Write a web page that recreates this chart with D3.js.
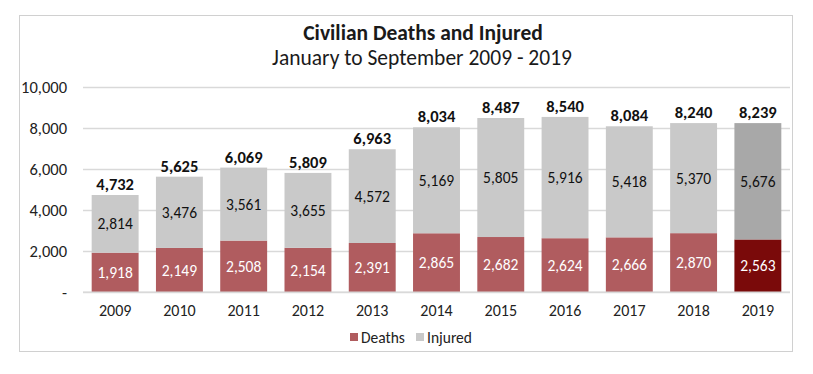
<!doctype html>
<html>
<head>
<meta charset="utf-8">
<style>
  body { margin: 0; background: #fff; }
  svg text { font-family: Carlito, Lato, "Open Sans", sans-serif; }
</style>
<script src="https://d3js.org/d3.v7.min.js"></script>
</head>
<body>
<svg width="813" height="374"></svg>
<script>
// data
var years = ["2009", "2010", "2011", "2012", "2013", "2014", "2015", "2016", "2017", "2018", "2019"];
var deaths = [1918, 2149, 2508, 2154, 2391, 2865, 2682, 2624, 2666, 2870, 2563];
var injured = [2814, 3476, 3561, 3655, 4572, 5169, 5805, 5916, 5418, 5370, 5676];
var yTicks = [0, 2000, 4000, 6000, 8000, 10000];

var svg = d3.select("svg");
var fmt = d3.format(",");

// outer frame
svg.append("rect")
   .attr("x", 19.5).attr("y", 15.5)
   .attr("width", 773).attr("height", 336)
   .attr("fill", "#fff")
   .attr("stroke", "#d0d0d0");

svg.append("text")
   .attr("x", 423).attr("y", 40)
   .attr("text-anchor", "middle")
   .attr("font-size", "21.5px").attr("font-weight", "bold")
   .attr("fill", "#1a1a1a")
   .text("Civilian Deaths and Injured");

svg.append("text")
   .attr("x", 422).attr("y", 65)
   .attr("text-anchor", "middle")
   .attr("font-size", "21.5px")
   .attr("fill", "#1a1a1a")
   .text("January to September 2009 - 2019");

var x = d3.scaleBand().domain(years).range([83, 790]).paddingInner(0.27).paddingOuter(0.135);
var y = d3.scaleLinear().domain([0, 10000]).range([292, 87]);

// gridlines + y labels
var yAxis = svg.append("g")
   .attr("transform", "translate(83,0)")
   .call(d3.axisLeft(y).tickValues(yTicks).tickSize(-707).tickPadding(16)
           .tickFormat(function(d) { return d === 0 ? "-" : fmt(d); }));
yAxis.select(".domain").remove();
yAxis.selectAll("line").attr("stroke", "#d9d9d9").attr("stroke-width", 1.3);
yAxis.selectAll("text").attr("font-size", "16.5px").attr("fill", "#222");

var rows = years.map(function(yr, i) {
  return { year: yr, deaths: deaths[i], injured: injured[i], last: i === years.length - 1 };
});

var g = svg.append("g");

g.selectAll(".death").data(rows).enter().append("rect")
 .attr("x", function(d) { return x(d.year); })
 .attr("y", function(d) { return y(d.deaths); })
 .attr("width", x.bandwidth())
 .attr("height", function(d) { return y(0) - y(d.deaths); })
 .attr("fill", function(d) { return d.last ? "#7a0a0a" : "#b05c5f"; });

g.selectAll(".inj").data(rows).enter().append("rect")
 .attr("x", function(d) { return x(d.year); })
 .attr("y", function(d) { return y(d.deaths + d.injured); })
 .attr("width", x.bandwidth())
 .attr("height", function(d) { return y(d.deaths) - y(d.deaths + d.injured); })
 .attr("fill", function(d) { return d.last ? "#a8a8a8" : "#c9c9c9"; });

g.selectAll(".dl").data(rows).enter().append("text")
 .attr("x", function(d) { return x(d.year) + x.bandwidth() / 2; })
 .attr("y", function(d) { return (y(0) + y(d.deaths)) / 2; })
 .attr("dy", "0.36em")
 .attr("text-anchor", "middle")
 .attr("font-size", "15.5px")
 .attr("fill", "#fff")
 .text(function(d) { return fmt(d.deaths); });

g.selectAll(".il").data(rows).enter().append("text")
 .attr("x", function(d) { return x(d.year) + x.bandwidth() / 2; })
 .attr("y", function(d) { return (y(d.deaths) + y(d.deaths + d.injured)) / 2; })
 .attr("dy", "0.36em")
 .attr("text-anchor", "middle")
 .attr("font-size", "15.5px")
 .attr("fill", "#111")
 .text(function(d) { return fmt(d.injured); });

g.selectAll(".tl").data(rows).enter().append("text")
 .attr("x", function(d) { return x(d.year) + x.bandwidth() / 2; })
 .attr("y", function(d) { return y(d.deaths + d.injured) - 5; })
 .attr("text-anchor", "middle")
 .attr("font-size", "16.5px").attr("font-weight", "bold")
 .attr("fill", "#111")
 .text(function(d) { return fmt(d.deaths + d.injured); });

// x labels
var xAxis = svg.append("g")
   .attr("transform", "translate(0,292)")
   .call(d3.axisBottom(x).tickSize(0).tickPadding(13));
xAxis.select(".domain").attr("stroke", "#d9d9d9").attr("d", "M83,0H790");
xAxis.selectAll("text").attr("font-size", "16px").attr("fill", "#222");

// legend
var legend = [{ name: "Deaths", color: "#b05c5f", x: 350 }, { name: "Injured", color: "#c9c9c9", x: 416 }];
var lg = svg.selectAll(".lg").data(legend).enter().append("g")
   .attr("transform", function(d) { return "translate(" + d.x + ",337)"; });
lg.append("rect").attr("x", 0).attr("y", -4).attr("width", 8).attr("height", 8)
  .attr("fill", function(d) { return d.color; });
lg.append("text").attr("x", 11).attr("dy", "0.36em")
  .attr("font-size", "15.5px").attr("fill", "#222")
  .text(function(d) { return d.name; });
</script>
</body>
</html>
